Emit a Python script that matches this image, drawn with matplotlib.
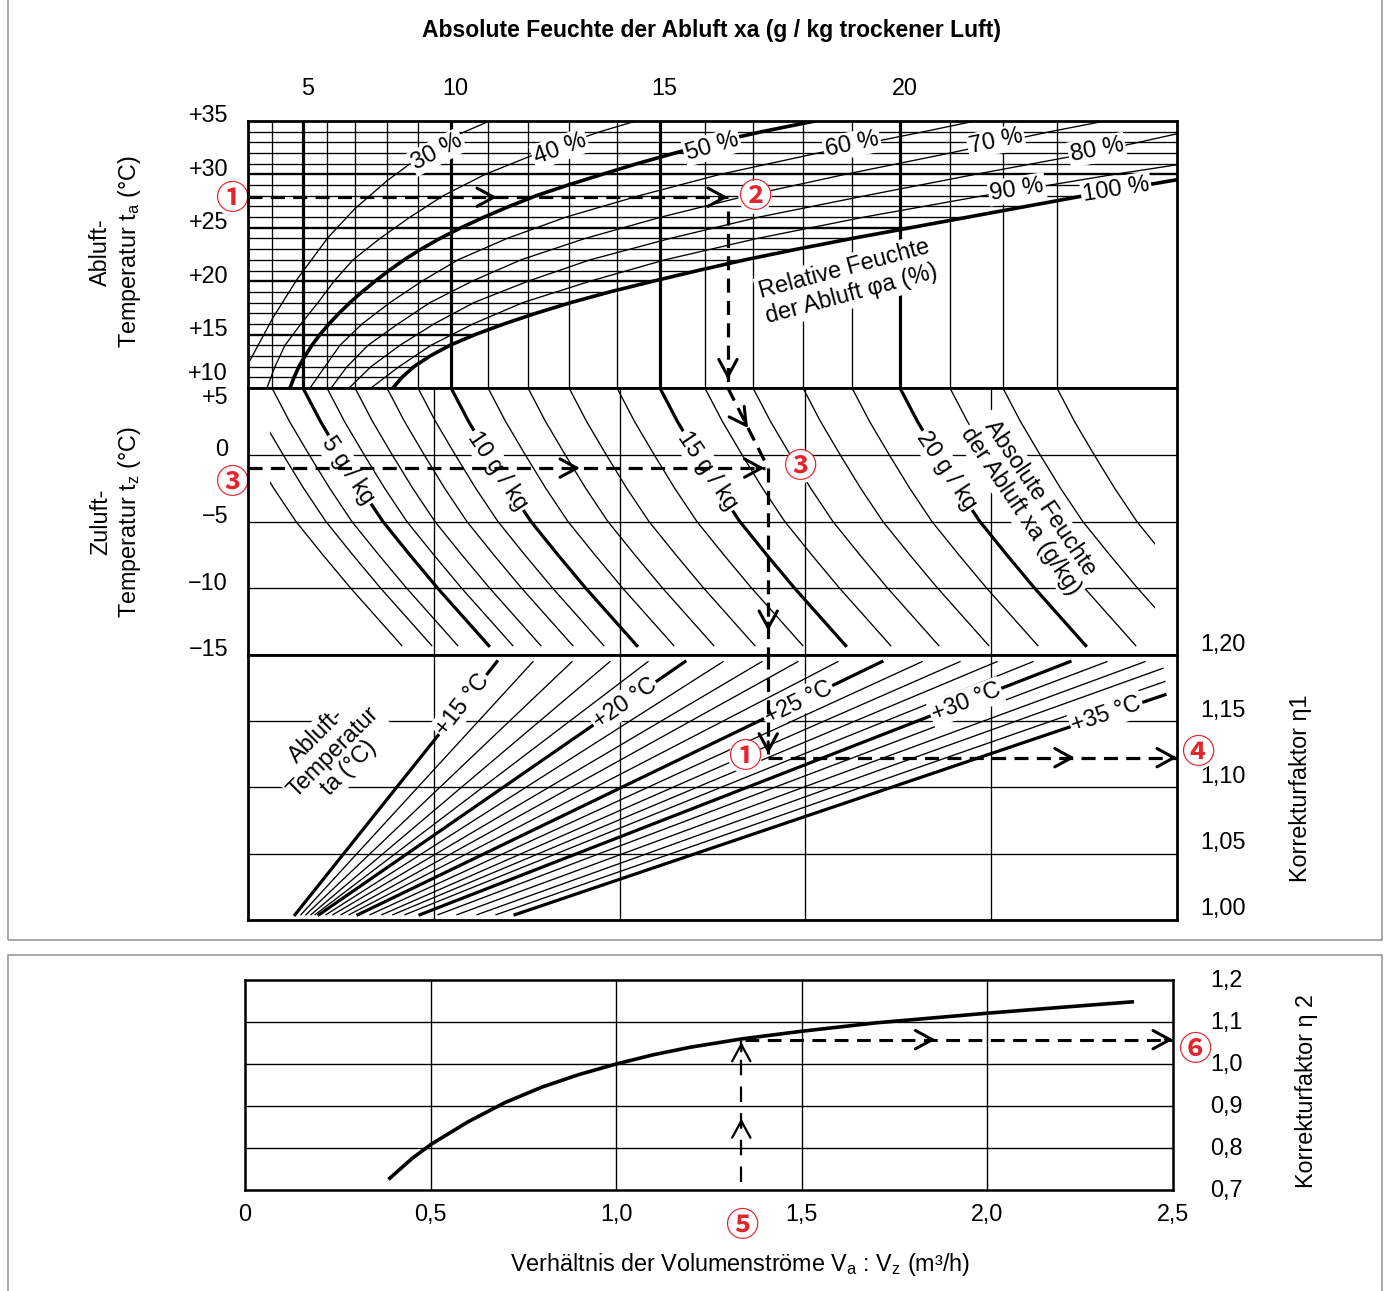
import numpy as np
import matplotlib
matplotlib.use("Agg")
import matplotlib.pyplot as plt
from matplotlib.patches import Polygon, Rectangle
from matplotlib.transforms import offset_copy

plt.rcParams['font.family'] = ['Liberation Sans', 'DejaVu Sans']
plt.rcParams['mathtext.fontset'] = 'custom'
plt.rcParams['mathtext.rm'] = 'Liberation Sans'
plt.rcParams['font.size'] = 16.8

# ---------------- data ----------------
# common x scale of the nomogram: 0..5 (five equal grid divisions)
xa_values = list(range(2, 24))       # absolute humidity lines, g/kg
xa_pos = [-0.172, -0.011, 0.129, 0.296, 0.425, 0.576, 0.748, 0.915, 1.093, 1.292,
          1.507, 1.728, 1.986, 2.217, 2.459, 2.718, 2.987, 3.251, 3.509, 3.778,
          4.063, 4.354]
xa_ticks = [5, 10, 15, 20]

# relative humidity curves in the top section (x position, ta in deg C)
rh30_u = [0.011, 0.135, 0.265, 0.431, 0.576, 0.748, 0.95, 1.141, 1.30]
rh30_t = [12.6, 16.6, 20.2, 24.1, 26.8, 29.4, 32.0, 33.8, 35.0]
rh40_u = [0.102, 0.145, 0.199, 0.285, 0.377, 0.463, 0.565, 0.710, 0.872, 1.050,
          1.276, 1.561, 1.895, 2.088]
rh40_t = [10, 12, 14, 16, 18, 20, 22, 24, 26, 28, 30, 32, 34, 35]
rh50_u = [0.226, 0.248, 0.274, 0.307, 0.344, 0.387, 0.436, 0.490, 0.549, 0.614,
          0.684, 0.759, 0.840, 0.931, 1.033, 1.146, 1.270, 1.405, 1.550, 1.722,
          1.905, 2.093, 2.298, 2.508, 2.766, 3.052]
rh50_t = list(range(10, 36))
rh60_u = [0.334, 0.414, 0.495, 0.614, 0.764, 0.936, 1.130, 1.394, 1.711, 2.104,
          2.540, 3.068, 3.638, 3.913]
rh60_t = [10, 12, 14, 16, 18, 20, 22, 24, 26, 28, 30, 32, 34, 35]
rh70_u = [0.447, 0.533, 0.646, 0.807, 0.980, 1.206, 1.469, 1.814, 2.223, 2.686,
          3.213, 3.778, 4.047, 4.316, 4.613]
rh70_t = [10, 12, 14, 16, 18, 20, 22, 24, 26, 28, 30, 32, 33, 34, 35]
rh80_u = [0.544, 0.662, 0.818, 1.001, 1.216, 1.507, 1.841, 2.271, 2.750, 3.321,
          3.913, 4.532, 5.0]
rh80_t = [10, 12, 14, 16, 18, 20, 22, 24, 26, 28, 30, 32, 33.8]
rh90_u = [0.662, 0.813, 0.985, 1.211, 1.480, 1.841, 2.244, 2.740, 3.315, 3.956,
          4.316, 4.661, 5.0]
rh90_t = [10, 12, 14, 16, 18, 20, 22, 24, 26, 28, 29, 30, 30.9]
rh100_u = [0.780, 0.829, 0.893, 0.980, 1.087, 1.222, 1.378, 1.550, 1.738, 1.948,
           2.180, 2.422, 2.675, 2.955, 3.251, 3.563, 3.875, 4.187, 4.499, 4.833, 5.0]
rh100_t = [10, 11, 12, 13, 14, 15, 16, 17, 18, 19, 20, 21, 22, 23, 24, 25, 26, 27,
           28, 29, 29.5]

rh_labels = ['30 %', '40 %', '50 %', '60 %', '70 %', '80 %', '90 %', '100 %']
rh_label_u = [1.017, 1.679, 2.497, 3.251, 4.026, 4.569, 4.139, 4.672]
rh_label_t = [32.1, 32.4, 32.6, 32.8, 33.1, 32.3, 28.6, 28.6]
rh_label_rot = [28, 20, 16, 12, 12, 11, 9, 9]

# middle section: one xa curve, offset from its start at tz = +5
tz_shape = [5, 2.5, 0, -2.5, -5, -7.5, -10, -12.5, -14.3]
shape_off = [0, 0.094, 0.20, 0.31, 0.43, 0.575, 0.725, 0.885, 1.0]
xa_label_u = [0.538, 1.346, 2.476, 3.762]
xa_label_tz = [-1.2, -1.2, -1.2, -1.2]

# lower section: eta1 lines for exhaust air temperatures
ta_lines = list(range(15, 36))
eta_start = 1.004
u_start = [0.253, 0.285, 0.312, 0.339, 0.361, 0.382, 0.420, 0.457, 0.501, 0.544,
           0.592, 0.657, 0.721, 0.780, 0.845, 0.926, 1.023, 1.125, 1.233, 1.335, 1.437]
u_end = [1.340, 1.534, 1.744, 1.948, 2.153, 2.352, 2.557, 2.766, 2.960, 3.175,
         3.412, 3.628, 3.832, 4.031, 4.225, 4.424, 4.623, 4.828, 4.925, 4.935, 4.935]
eta_end = [1.195, 1.195, 1.195, 1.195, 1.195, 1.195, 1.195, 1.195, 1.195, 1.195,
           1.195, 1.195, 1.195, 1.195, 1.195, 1.195, 1.195, 1.195, 1.190, 1.180, 1.170]
ta_labels = ['+15 °C', '+20 °C', '+25 °C', '+30 °C', '+35 °C']
ta_label_frac = [0.83, 0.835, 0.84, 0.84, 0.91]

# eta2 curve
ratio = [0.39, 0.45, 0.5, 0.6, 0.7, 0.8, 0.9, 1.0, 1.1, 1.2, 1.34, 1.5, 1.7, 2.0, 2.2, 2.39]
eta2 = [0.728, 0.775, 0.808, 0.862, 0.908, 0.945, 0.975, 1.0, 1.022, 1.040, 1.060,
        1.078, 1.098, 1.121, 1.135, 1.148]

# worked example
ta_ex = 27.86
u_ex2 = 2.583
tz_ex = -1.0
u_ex3 = 2.80
eta1_ex = 1.1225
ratio_ex = 1.337
eta2_ex = 1.058

# ---------------- figure ----------------
W, H = 1389, 1291
fig = plt.figure(figsize=(W / 100, H / 100), dpi=100)


def rect(x0, y0, x1, y1):
    return [x0 / W, 1 - y1 / H, (x1 - x0) / W, (y1 - y0) / H]


RED = '#e3262e'
CJK = ['Noto Sans CJK JP', 'DejaVu Sans']
THIN = 0.95
THICK = 2.3
white = dict(boxstyle='square,pad=0.08', fc='white', ec='none')

fig.add_artist(Rectangle((8 / W, 1 - 940 / H), 1374 / W, 950 / H, transform=fig.transFigure,
                         fill=False, ec='#9a9a9a', lw=1.2))
fig.add_artist(Rectangle((8 / W, -0.01), 1374 / W, (1291 - 955) / H + 0.01,
                         transform=fig.transFigure, fill=False, ec='#9a9a9a', lw=1.2))


def frame(ax, lw=2.0):
    ax.set_xticks([])
    ax.set_yticks([])
    for s in ax.spines.values():
        s.set_linewidth(lw)
        s.set_zorder(9)


def dash(ax, xs, ys, lw=2.3, dashes=(4.4, 2.6)):
    ax.plot(xs, ys, color='k', lw=lw, dashes=dashes, clip_on=False,
            dash_capstyle='butt', zorder=7)


def head(ax, x0, y0, x1, y1, lw=2.2, size=22):
    ax.annotate('', xy=(x1, y1), xytext=(x0, y0),
                arrowprops=dict(arrowstyle='->,head_length=0.55,head_width=0.3',
                                lw=lw, color='k', shrinkA=0, shrinkB=0,
                                mutation_scale=size),
                annotation_clip=False, zorder=7)


def red(ax, x, y, s):
    ax.text(x, y, s, color=RED, fontsize=24, fontweight='bold', family=CJK,
            ha='center', va='center',
            bbox=dict(boxstyle='circle,pad=0.0', fc='white', ec='none'),
            zorder=8, clip_on=False)


# ---- top section: ta vs xa with relative humidity ----
ax_t = fig.add_axes(rect(248, 121, 1177, 388))
ax_t.set_xlim(0, 5)
ax_t.set_ylim(10, 35)
frame(ax_t)

clip_poly = Polygon([(0, 10)] + list(zip(rh100_u, rh100_t)) + [(5, 35), (0, 35)],
                    closed=True, transform=ax_t.transData)
for t in range(11, 35):
    ln = ax_t.axhline(t, color='k', lw=1.7 if t % 5 == 0 else THIN, zorder=2)
    ln.set_clip_path(clip_poly)

for xa, pos in zip(xa_values, xa_pos):
    if 0.05 < pos < 4.95:
        ax_t.axvline(pos, color='k', lw=THICK if xa % 5 == 0 else THIN, zorder=2)

rh_u = [rh30_u, rh40_u, rh50_u, rh60_u, rh70_u, rh80_u, rh90_u, rh100_u]
rh_t = [rh30_t, rh40_t, rh50_t, rh60_t, rh70_t, rh80_t, rh90_t, rh100_t]
for lab, u, t in zip(rh_labels, rh_u, rh_t):
    thick = lab in ('50 %', '100 %')
    ax_t.plot(u, t, color='k', lw=THICK + 0.3 if thick else THIN, zorder=3,
              solid_joinstyle='round')

for lab, u, t, r in zip(rh_labels, rh_label_u, rh_label_t, rh_label_rot):
    ax_t.text(u, t, lab, rotation=r, ha='center', va='center', fontsize=17,
              bbox=white, zorder=6)

ax_t.text(3.229, 19.96, 'Relative Feuchte\nder Abluft φa (%)', rotation=15,
          ha='center', va='center', fontsize=16.8, linespacing=1.15,
          bbox=dict(boxstyle='square,pad=0.12', fc='white', ec='none'), zorder=6)

for xa in xa_ticks:
    ax_t.text(xa_pos[xa_values.index(xa)] + 0.025, 1.12, str(xa),
              transform=ax_t.get_xaxis_transform(), ha='center', va='center')

lbl_t = offset_copy(ax_t.get_yaxis_transform(), fig=fig, y=5, units='dots')
for t in [35, 30, 25, 20, 15]:
    ax_t.text(-0.0215, t, '+%d' % t, transform=lbl_t, ha='right', va='center')
ax_t.text(-0.0215, 10, '+10',
          transform=offset_copy(ax_t.get_yaxis_transform(), fig=fig, y=14, units='dots'),
          ha='right', va='center')

# example path in top section
dash(ax_t, [0, u_ex2], [ta_ex, ta_ex])
head(ax_t, 1.30, ta_ex, 1.34, ta_ex)
head(ax_t, u_ex2 - 0.04, ta_ex, u_ex2, ta_ex)
dash(ax_t, [u_ex2, u_ex2], [ta_ex - 1.3, 10])
head(ax_t, u_ex2, 11.3, u_ex2, 10.8)
red(ax_t, -0.086, 27.67, '①')
red(ax_t, 2.729, ta_ex, '②')

# ---- middle section: supply air temperature ----
ax_m = fig.add_axes(rect(248, 388, 1177, 655))
ax_m.set_xlim(0, 5)
ax_m.set_ylim(-15, 5)
frame(ax_m)
for t in [0, -5, -10]:
    ax_m.axhline(t, color='k', lw=THIN, zorder=2)
for g in [1, 2, 3, 4]:
    ax_m.axvline(g, color='k', lw=THIN, zorder=2)

clip_rect = Rectangle((0.12, -15), 4.76, 20, transform=ax_m.transData)
for xa, pos in zip(xa_values, xa_pos):
    ln, = ax_m.plot(pos + np.array(shape_off), tz_shape, color='k',
                    lw=THICK if xa % 5 == 0 else THIN, zorder=3)
    ln.set_clip_path(clip_rect)

for xa, u, tz in zip(xa_ticks, xa_label_u, xa_label_tz):
    ax_m.text(u, tz, '%d g / kg' % xa, rotation=-56, ha='center', va='center',
              fontsize=16.8, bbox=white, zorder=6)
ax_m.text(4.209, -3.76, 'Absolute Feuchte\nder Abluft xa (g/kg)', rotation=-56,
          ha='center', va='center', fontsize=16.8, linespacing=1.05,
          bbox=dict(boxstyle='square,pad=0.08', fc='white', ec='none'), zorder=6)

lbl_m = offset_copy(ax_m.get_yaxis_transform(), fig=fig, y=5, units='dots')
for t, s in zip([0, -5, -10, -15], ['0', '−5', '−10', '−15']):
    ax_m.text(-0.0215, t, s, transform=lbl_m, ha='right', va='center')
ax_m.text(-0.0215, 5, '+5',
          transform=offset_copy(ax_m.get_yaxis_transform(), fig=fig, y=-10, units='dots'),
          ha='right', va='center')

dash(ax_m, [u_ex2, u_ex3], [5, tz_ex])
head(ax_m, u_ex2 + 0.5 * (u_ex3 - u_ex2) - 0.02, 2.4, u_ex2 + 0.5 * (u_ex3 - u_ex2), 2.0)
dash(ax_m, [0, u_ex3 - 0.02], [tz_ex, tz_ex])
head(ax_m, 1.75, tz_ex, 1.787, tz_ex)
head(ax_m, u_ex3 - 0.06, tz_ex, u_ex3 - 0.02, tz_ex)
dash(ax_m, [u_ex3, u_ex3], [tz_ex, -15])
head(ax_m, u_ex3, -12.6, u_ex3, -13.2)
red(ax_m, -0.086, -2.12, '③')
red(ax_m, 2.971, -0.92, '③')

# ---- lower section: eta1 ----
ax_b = fig.add_axes(rect(248, 655, 1177, 920))
ax_b.set_xlim(0, 5)
ax_b.set_ylim(1.0, 1.2)
frame(ax_b)
for e in [1.05, 1.10, 1.15]:
    ax_b.axhline(e, color='k', lw=THIN, zorder=2)
for g in [1, 2, 3, 4]:
    ax_b.axvline(g, color='k', lw=THIN, zorder=2)

for ta, us, ue, ee in zip(ta_lines, u_start, u_end, eta_end):
    ax_b.plot([us, ue], [eta_start, ee], color='k',
              lw=THICK if ta % 5 == 0 else THIN, zorder=3)

for lab, f in zip(ta_labels, ta_label_frac):
    i = ta_lines.index(int(lab[1:3]))
    x = u_start[i] + f * (u_end[i] - u_start[i])
    y = eta_start + f * (eta_end[i] - eta_start)
    ang = np.degrees(np.arctan2(eta_end[i] - eta_start, u_end[i] - u_start[i]))
    ax_b.text(x, y, lab, rotation=ang, transform_rotates_text=True,
              rotation_mode='anchor', ha='center', va='center', fontsize=16.8,
              bbox=white, zorder=6)
ax_b.text(0.457, 1.127, 'Abluft-\nTemperatur\nta (°C)', rotation=45, ha='center',
          va='center', fontsize=16.8, linespacing=1.0,
          bbox=dict(boxstyle='square,pad=0.08', fc='white', ec='none'), zorder=6)

lbl_b = offset_copy(ax_b.get_yaxis_transform(), fig=fig, y=11, units='dots')
for e in [1.20, 1.15, 1.10, 1.05, 1.00]:
    ax_b.text(1.0248, e, ('%.2f' % e).replace('.', ','), transform=lbl_b,
              ha='left', va='center')

dash(ax_b, [u_ex3, u_ex3], [1.2, eta1_ex + 0.003])
head(ax_b, u_ex3, eta1_ex + 0.012, u_ex3, eta1_ex + 0.003)
dash(ax_b, [u_ex3, 5.0], [eta1_ex, eta1_ex])
head(ax_b, 4.41, eta1_ex, 4.45, eta1_ex)
head(ax_b, 4.97, eta1_ex, 5.0, eta1_ex)
red(ax_b, 2.675, 1.123, '①')
red(ax_b, 5.113, 1.126, '④')

fig.text(711 / W, 1 - 30 / H, 'Absolute Feuchte der Abluft xa (g / kg trockener Luft)',
         ha='center', va='center', fontsize=16.5, fontweight='bold')
fig.text(116 / W, 1 - 252 / H, 'Abluft-\nTemperatur t$_\\mathregular{a}$ (°C)',
         rotation=90, ha='center', va='center', multialignment='center', linespacing=1.2)
fig.text(116 / W, 1 - 522 / H, 'Zuluft-\nTemperatur t$_\\mathregular{z}$ (°C)',
         rotation=90, ha='center', va='center', multialignment='center', linespacing=1.2)
fig.text(1300 / W, 1 - 788 / H, 'Korrekturfaktor η1', rotation=90, ha='center', va='center')

# ---- eta2 chart ----
ax2 = fig.add_axes(rect(245, 980, 1173, 1190))
ax2.set_xlim(0, 2.5)
ax2.set_ylim(0.7, 1.2)
frame(ax2, lw=1.8)
for x in [0.5, 1.0, 1.5, 2.0]:
    ax2.axvline(x, color='k', lw=1.0, zorder=2)
for y in [0.8, 0.9, 1.0, 1.1]:
    ax2.axhline(y, color='k', lw=1.0, zorder=2)
ax2.plot(ratio, eta2, color='k', lw=2.6, zorder=3)

for x in [0, 0.5, 1.0, 1.5, 2.0, 2.5]:
    s = '0' if x == 0 else ('%.1f' % x).replace('.', ',')
    ax2.text(x, -0.119, s, transform=ax2.get_xaxis_transform(), ha='center', va='center')
for y in [1.2, 1.1, 1.0, 0.9, 0.8, 0.7]:
    ax2.text(1.04, y, ('%.1f' % y).replace('.', ','), transform=ax2.get_yaxis_transform(),
             ha='left', va='center')

dash(ax2, [ratio_ex, ratio_ex], [0.72, eta2_ex - 0.004], lw=1.6, dashes=(7, 5))
head(ax2, ratio_ex, 0.85, ratio_ex, 0.87, lw=1.6)
head(ax2, ratio_ex, 1.03, ratio_ex, eta2_ex - 0.006, lw=1.6)
dash(ax2, [ratio_ex + 0.01, 2.5], [eta2_ex, eta2_ex], lw=2.2, dashes=(4.5, 2.8))
head(ax2, 1.84, eta2_ex, 1.86, eta2_ex)
head(ax2, 2.48, eta2_ex, 2.5, eta2_ex)
red(ax2, 1.339, 0.612, '⑤')
red(ax2, 2.559, 1.033, '⑥')

fig.text(1307 / W, 1 - 1091 / H, 'Korrekturfaktor η 2', rotation=90, ha='center', va='center')
fig.text(740 / W, 1 - 1265 / H,
         'Verhältnis der Volumenströme V$_\\mathregular{a}$ : V$_\\mathregular{z}$ (m³/h)',
         ha='center', va='center')

fig.savefig('out.png', dpi=100)
